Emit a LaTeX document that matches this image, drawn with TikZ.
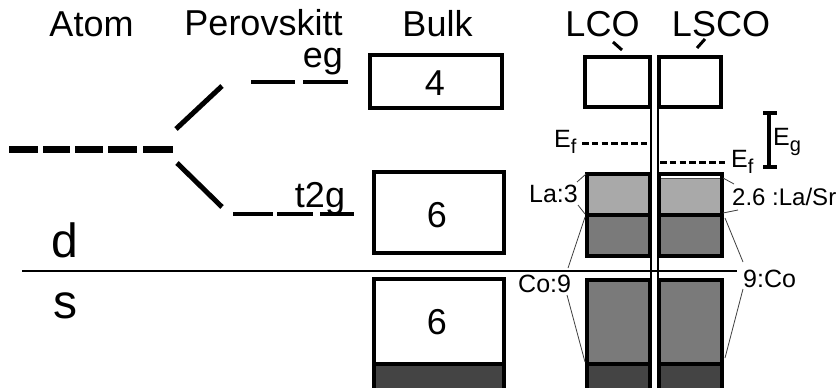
\documentclass[tikz,border=0pt]{standalone}
\usepackage{fontspec}
\setmainfont{Liberation Sans}
\newcommand{\myEsub}[1]{E\raisebox{-6pt}{\fontsize{20}{20}\selectfont #1}}
\definecolor{lg}{HTML}{A9A9A9}
\definecolor{mg}{HTML}{7A7A7A}
\definecolor{dg}{HTML}{444444}
\definecolor{thin}{HTML}{555555}
\tikzset{
  hdr/.style={font=\fontsize{36}{36}\selectfont, inner sep=0pt, anchor=base},
  big/.style={font=\fontsize{48}{48}\selectfont, inner sep=0pt, anchor=base},
  lbl/.style={font=\fontsize{25}{25}\selectfont, inner sep=0pt},
  elbl/.style={font=\fontsize{25}{25}\selectfont, inner sep=0pt, anchor=base west},
  atomlevel/.style={line width=6.5pt},
  orblevel/.style={line width=4pt},
  split/.style={line width=5pt},
  bandbox/.style={draw, line width=3.6pt},
  ptr/.style={line width=0.8pt, draw=black!75},
  fermi/.style={line width=3pt, dash pattern=on 6.5pt off 3.3pt},
  sep/.style={line width=2.3pt},
}
\begin{document}
\begin{tikzpicture}[x=1pt,y=-1pt]
\useasboundingbox (0,0) rectangle (838,388);
\clip (0,0) rectangle (838,388);
\fill[white] (0,0) rectangle (838,388);

% headers
\node[hdr] (hatom) at (91.5,36) {Atom};
\node[hdr] (hper) at (263.5,35) {Perovskitt};
\node[hdr] (hbulk) at (437.5,36) {Bulk};
\node[hdr] (hlco) at (602.5,36) {LCO};
\node[hdr] (hlsco) at (721,36) {LSCO};

% d / s
\node[big] (dlab) at (65,257) {d};
\node[big] (slab) at (65.5,318) {s};
\draw[thin, line width=1.3pt] (22,271) -- (737,271);

% atom levels
\foreach \a/\b in {9/38,43/70,75/103,108/137,143/173}
  \draw[atomlevel] (\a,149.5) -- (\b,149.5);
\coordinate (su1) at (176,129); \coordinate (su2) at (222,86);
\coordinate (sd1) at (177,163); \coordinate (sd2) at (222,207);
\draw[split] (su1) -- (su2);
\draw[split] (sd1) -- (sd2);

% eg / t2g
\draw[orblevel] (251,82) -- (295,82);
\draw[orblevel] (303,82) -- (348,82);
\node[hdr] (eg) at (323,67) {eg};
\draw[orblevel] (233,214) -- (273,214);
\draw[orblevel] (277,214) -- (313,214);
\draw[orblevel] (320,214) -- (354,214);
\node[hdr] (t2g) at (320,207) {t2g};

% bulk
\draw[bandbox] (370,55) rectangle (502,108);
\node[hdr] (b4) at (435,95) {4};
\draw[bandbox] (374,172) rectangle (504,253);
\node[hdr] (b6a) at (437,227) {6};
\fill[dg] (374,364) rectangle (504,400);
\draw[bandbox] (374,400) -- (374,279) -- (504,279) -- (504,400);
\draw[bandbox] (374,364) -- (504,364);
\node[hdr] (b6b) at (437,334) {6};

% LCO / LSCO top boxes
\draw[bandbox] (585,57) rectangle (650,107);
\draw[bandbox] (659,57) rectangle (721,107);
\draw[line width=3pt] (613,42) -- (622,50);
\draw[line width=3pt] (705,39) -- (697,48);

% d bands
\fill[lg] (587,174) rectangle (650,215);
\fill[mg] (587,215) rectangle (650,256);
\draw[bandbox] (587,174) rectangle (650,256);
\draw[bandbox] (587,215) -- (650,215);
\fill[lg] (659,178) rectangle (722,215);
\fill[mg] (659,215) rectangle (722,256);
\draw[line width=1pt, black!70] (659,178.5) -- (722,178.5);
\draw[bandbox] (659,174) rectangle (722,256);
\draw[bandbox] (659,215) -- (722,215);

% s bands
\fill[mg] (587,280) rectangle (650,364);
\fill[dg] (587,364) rectangle (650,400);
\draw[bandbox] (587,400) -- (587,280) -- (650,280) -- (650,400);
\draw[bandbox] (587,364) -- (650,364);
\fill[mg] (659,280) rectangle (722,364);
\fill[dg] (659,364) rectangle (722,400);
\draw[bandbox] (659,400) -- (659,280) -- (722,280) -- (722,400);
\draw[bandbox] (659,364) -- (722,364);

% separator lines
\draw[sep] (651,55) -- (651,392);
\draw[sep] (658,55) -- (658,392);

% Fermi levels
\draw[fermi] (582,143.5) -- (650,143.5);
\node[elbl] (ef1) at (554,147) {\myEsub{f}};
\draw[fermi] (660,162) -- (727,162);
\node[elbl] (ef2) at (731,167) {\myEsub{f}};
\draw[line width=3.5pt] (769,113) -- (769,167);
\draw[line width=3.5pt] (763,113) -- (777,113);
\draw[line width=3.5pt] (763,167) -- (777,167);
\node[elbl] (eg2) at (773,145) {\myEsub{g}};

% labels
\node[lbl, anchor=base east] (la3) at (578,202) {La:3};
\node[lbl, anchor=base west] (co9) at (518,292) {Co:9};
\node[lbl, anchor=base west, font=\fontsize{24}{24}\selectfont] (lasr) at (732,205) {2.6 :La/Sr};
\node[lbl, anchor=base west] (co9r) at (743,287) {9:Co};

\draw[ptr] (577,182) -- (586,174);
\draw[ptr] (578,205) -- (585,214);
\draw[ptr] (568,268) -- (585,217);
\draw[ptr] (567,295) -- (585,362);
\draw[ptr] (723,178) -- (734,184);
\draw[ptr] (723,213) -- (738,210);
\draw[ptr] (725,218) -- (743,262);
\draw[ptr] (743,289) -- (725,358);
\end{tikzpicture}
\end{document}
